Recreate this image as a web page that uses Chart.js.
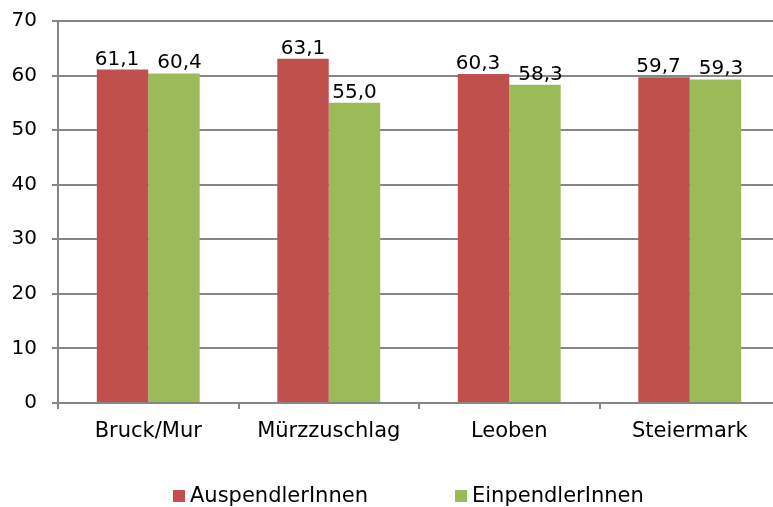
<!DOCTYPE html>
<html>
<head>
<meta charset="utf-8">
<script src="https://cdn.jsdelivr.net/npm/chart.js@4/dist/chart.umd.min.js"></script>
<style>
  html, body { margin: 0; padding: 0; background: #fff; overflow: hidden; }
  #wrap { position: relative; width: 773px; height: 507px; overflow: hidden; }
  #legend { position: absolute; left: 0; top: 483px; width: 773px; height: 24px;
            font: 21px 'DejaVu Sans', Verdana, sans-serif; color: #000; line-height: 24px; }
  #legend span.item { position: absolute; top: 0; white-space: nowrap; }
  #legend i { display: inline-block; width: 12px; height: 12px; margin-right: 5px; }
</style>
</head>
<body>
<div id="wrap">
  <canvas id="pendlerChart" width="790" height="507"></canvas>
  <div id="legend"></div>
</div>
<script>
const categories = ["Bruck/Mur", "Mürzzuschlag", "Leoben", "Steiermark"]
const auspendler = [61.1, 63.1, 60.3, 59.7]
const einpendler = [60.4, 55.0, 58.3, 59.3]
const yTicks = [0, 10, 20, 30, 40, 50, 60, 70]

const seriesNames = ["AuspendlerInnen", "EinpendlerInnen"]
const seriesColors = ["#c0504d", "#9bbb59"]

const FONT = "'DejaVu Sans', Verdana, sans-serif"
const GRID = "#868686"

// draws the value above each bar, with a decimal comma;
// labels of neighbouring bars at similar height get pushed apart a bit
const valueLabels = {
    id: "valueLabels",
    afterDatasetsDraw(chart) {
        const ctx = chart.ctx
        ctx.save()
        ctx.font = "20px " + FONT
        ctx.fillStyle = "#000"
        ctx.textAlign = "center"
        ctx.textBaseline = "alphabetic"
        const metaA = chart.getDatasetMeta(0).data
        const metaB = chart.getDatasetMeta(1).data
        chart.data.labels.forEach((_, j) => {
            const items = [0, 1].map(i => {
                const bar = (i === 0 ? metaA : metaB)[j]
                const text = chart.data.datasets[i].data[j].toFixed(1).replace(".", ",")
                return { text, x: bar.x, y: bar.y - 5, w: ctx.measureText(text).width }
            })
            const [a, b] = items
            const minDist = (a.w + b.w) / 2 + 18
            if (Math.abs(a.y - b.y) < 20 && b.x - a.x < minDist) {
                const shift = (minDist - (b.x - a.x)) / 2
                a.x -= shift
                b.x += shift
            }
            items.forEach(it => ctx.fillText(it.text, it.x, it.y))
        })
        ctx.restore()
    }
}

Chart.defaults.font.family = FONT
Chart.defaults.font.size = 20
Chart.defaults.color = "#000"

const chart = new Chart(document.getElementById("pendlerChart"), {
    type: "bar",
    data: {
        labels: categories,
        datasets: seriesNames.map((name, i) => ({
            label: name,
            data: i === 0 ? auspendler : einpendler,
            backgroundColor: seriesColors[i],
        }))
    },
    options: {
        responsive: false,
        animation: false,
        layout: { padding: { top: 21, right: 10, left: 0, bottom: 52 } },
        datasets: { bar: { categoryPercentage: 0.57, barPercentage: 1.0 } },
        plugins: {
            tooltip: { enabled: false },
            legend: { display: false }
        },
        scales: {
            x: {
                grid: { offset: true, drawOnChartArea: false, color: GRID, tickLength: 6, lineWidth: 2 },
                border: { color: GRID, width: 2 },
                ticks: { padding: 10, font: { size: 21 } },
                afterFit: (axis) => { axis.height = 52 }
            },
            y: {
                min: 0,
                max: 70,
                afterBuildTicks: (axis) => { axis.ticks = yTicks.map(v => ({ value: v })) },
                grid: { color: GRID, tickLength: 6, lineWidth: 2 },
                border: { color: GRID, width: 2 },
                ticks: { padding: 15 },
                afterFit: (axis) => {
                    axis.width = 58
                    axis.paddingTop = 0
                    axis.paddingBottom = 0
                }
            }
        }
    },
    plugins: [valueLabels]
})

// legend below the plot, laid out like the original
const legendEl = document.getElementById("legend")
const legendLeft = [173, 455]
chart.data.datasets.forEach((ds, i) => {
    const item = document.createElement("span")
    item.className = "item"
    item.style.left = legendLeft[i] + "px"
    item.innerHTML = '<i style="background:' + ds.backgroundColor + '"></i>' + ds.label
    legendEl.appendChild(item)
})
</script>
</body>
</html>
